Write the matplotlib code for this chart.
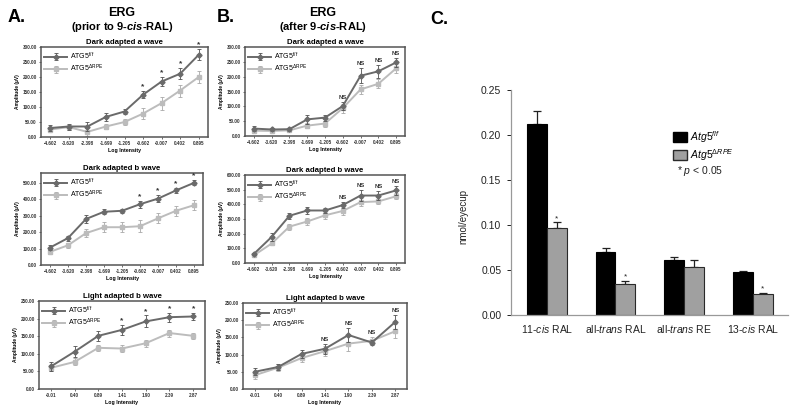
import matplotlib
matplotlib.use('Agg')
import matplotlib.pyplot as plt
import numpy as np
from matplotlib.patches import Patch

plt.rcParams['font.family'] = ['Liberation Sans', 'DejaVu Sans']
plt.rcParams['mathtext.fontset'] = 'custom'
plt.rcParams['mathtext.rm'] = 'Liberation Sans'
plt.rcParams['mathtext.it'] = 'Liberation Sans:italic'
plt.rcParams['mathtext.bf'] = 'Liberation Sans:bold'
plt.rcParams['mathtext.sf'] = 'Liberation Sans:italic:bold'

# ---------------- data ----------------
dark_labels = ['-4.602', '-3.620', '-2.398', '-1.699', '-1.205', '-0.602', '-0.007', '0.402', '0.895']
light_labels = ['-0.01', '0.40', '0.89', '1.41', '1.90', '2.39', '2.87']

# Panel A (prior to 9-cis-RAL)
a1_ff = [30, 35, 35, 67, 85, 141, 185, 211, 274]
a1_ff_err = [10, 10, 15, 12, 8, 12, 15, 18, 18]
a1_ko = [25, 33, 17, 35, 50, 78, 113, 155, 200]
a1_ko_err = [8, 8, 12, 8, 10, 18, 22, 20, 20]
a1_marks = [5, 6, 7, 8]

a2_ff = [106, 164, 280, 324, 330, 370, 404, 454, 500]
a2_ff_err = [15, 15, 25, 15, 12, 20, 20, 15, 15]
a2_ko = [80, 120, 194, 230, 230, 236, 284, 330, 364]
a2_ko_err = [15, 15, 25, 30, 30, 35, 30, 30, 30]
a2_marks = [5, 6, 7, 8]

a3_ff = [64, 106, 151, 168, 192, 204, 206]
a3_ff_err = [12, 15, 15, 15, 17, 13, 10]
a3_ko = [60, 77, 117, 115, 130, 159, 151]
a3_ko_err = [8, 10, 8, 10, 10, 10, 8]
a3_marks = [3, 4, 5, 6]

# Panel B (after 9-cis-RAL)
b1_ff = [25, 22, 23, 56, 62, 101, 203, 218, 248]
b1_ff_err = [8, 6, 5, 15, 10, 15, 25, 22, 15]
b1_ko = [18, 17, 19, 35, 42, 94, 157, 176, 228]
b1_ko_err = [5, 5, 4, 8, 10, 15, 15, 15, 15]
b1_marks = [5, 6, 7, 8]

b2_ff = [62, 178, 322, 358, 358, 395, 460, 460, 495]
b2_ff_err = [8, 25, 20, 25, 15, 20, 35, 30, 30]
b2_ko = [52, 133, 248, 283, 325, 355, 415, 420, 455]
b2_ko_err = [8, 12, 20, 25, 25, 25, 25, 15, 20]
b2_marks = [5, 6, 7, 8]

b3_ff = [50, 64, 102, 117, 157, 135, 195]
b3_ff_err = [10, 8, 12, 15, 20, 8, 20]
b3_ko = [40, 62, 90, 110, 132, 140, 168]
b3_ko_err = [12, 10, 12, 15, 22, 10, 20]
b3_marks = [3, 4, 5, 6]

# Panel C (retinoids)
c_categories = ['11-$\\mathit{cis}$ RAL', 'all-$\\mathit{trans}$ RAL',
                'all-$\\mathit{trans}$ RE', '13-$\\mathit{cis}$ RAL']
c_ff = [0.212, 0.070, 0.061, 0.048]
c_ff_err = [0.015, 0.005, 0.003, 0.001]
c_ko = [0.097, 0.035, 0.053, 0.023]
c_ko_err = [0.006, 0.003, 0.008, 0.002]
c_marks = [0, 1, 3]
c_yticks = [0.00, 0.05, 0.10, 0.15, 0.20, 0.25]

lab_ff = 'ATG5$^{\\mathrm{f/f}}$'
lab_ko = 'ATG5$^{\\Delta\\mathrm{RPE}}$'

# ---------------- figure ----------------
W, H = 800, 416
fig = plt.figure(figsize=(W / 100, H / 100), dpi=100)

def px_axes(l, t, r, b):
    return fig.add_axes([l / W, 1 - b / H, (r - l) / W, (b - t) / H])

def ftext(x, y, s, **kw):
    fig.text(x / W, 1 - y / H, s, **kw)

FF_C = '#6a6a6a'
KO_C = '#bcbcbc'

def erg(ax, labels, ff, ff_err, ko, ko_err, ymax, ystep, marks, mark, title):
    x = np.arange(len(labels))
    ax.errorbar(x, ko, yerr=ko_err, color=KO_C, ecolor='#a8a8a8', marker='s', ms=2.8,
                lw=1.4, capsize=1.4, elinewidth=0.6, capthick=0.6, label=lab_ko, zorder=2)
    ax.errorbar(x, ff, yerr=ff_err, color=FF_C, ecolor='#505050', marker='D', ms=2.6,
                lw=1.4, capsize=1.4, elinewidth=0.6, capthick=0.6, label=lab_ff, zorder=3)
    ax.set_xlim(-0.5, len(labels) - 0.5)
    ax.set_ylim(0, ymax)
    yt = np.arange(0, ymax + 0.1, ystep)
    ax.set_yticks(yt, ['%.2f' % v for v in yt])
    ax.set_xticks(x, labels)
    ax.tick_params(labelsize=3.3, length=1.5, width=0.5, pad=1.5, colors='#333333')
    for lb in ax.get_xticklabels() + ax.get_yticklabels():
        lb.set_fontweight('bold')
    for s in ax.spines.values():
        s.set_linewidth(1.1)
        s.set_color('#555555')
    ax.set_xlabel('Log Intensity', fontsize=3.8, fontweight='bold', labelpad=1.5)
    ax.set_ylabel('Amplitude (µV)', fontsize=3.5, fontweight='bold', labelpad=2)
    ax.set_title(title, fontsize=5.6, fontweight='bold', pad=2.5)
    for i in marks:
        top = max(ff[i] + ff_err[i], ko[i] + ko_err[i])
        if mark == '*':
            ax.annotate('*', (x[i], top), xytext=(0, 0.5), textcoords='offset points',
                        ha='center', va='bottom', fontsize=6, fontweight='bold', color='#333333')
        else:
            ax.annotate(mark, (x[i], top), xytext=(0, 1.5), textcoords='offset points',
                        ha='center', va='bottom', fontsize=4.3, fontweight='bold', color='#333333')
    h, l = ax.get_legend_handles_labels()
    ax.legend(h[::-1], l[::-1], loc='upper left', frameon=False, fontsize=5,
              handlelength=3.2, handletextpad=0.5, labelspacing=0.15,
              borderaxespad=0.3, borderpad=0.2)

# Panel A axes
ax = px_axes(41, 47, 208, 137)
erg(ax, dark_labels, a1_ff, a1_ff_err, a1_ko, a1_ko_err, 300, 50, a1_marks, '*', 'Dark adapted a wave')
ax = px_axes(41, 173, 203, 265)
erg(ax, dark_labels, a2_ff, a2_ff_err, a2_ko, a2_ko_err, 560, 100, a2_marks, '*', 'Dark adapted b wave')
ax = px_axes(39, 301, 205, 389)
erg(ax, light_labels, a3_ff, a3_ff_err, a3_ko, a3_ko_err, 250, 50, a3_marks, '*', 'Light adapted b wave')

# Panel B axes
ax = px_axes(245, 47, 405, 136)
erg(ax, dark_labels, b1_ff, b1_ff_err, b1_ko, b1_ko_err, 300, 50, b1_marks, 'NS', 'Dark adapted a wave')
ax = px_axes(245, 175, 405, 263)
erg(ax, dark_labels, b2_ff, b2_ff_err, b2_ko, b2_ko_err, 600, 100, b2_marks, 'NS', 'Dark adapted b wave')
ax = px_axes(243, 303, 407, 389)
erg(ax, light_labels, b3_ff, b3_ff_err, b3_ko, b3_ko_err, 250, 50, b3_marks, 'NS', 'Light adapted b wave')

# Headers
ftext(8, 17, 'A.', fontsize=13, fontweight='bold', ha='left', va='center')
ftext(217, 17, 'B.', fontsize=13, fontweight='bold', ha='left', va='center')
ftext(430, 20, 'C.', fontsize=13, fontweight='bold', ha='left', va='center')
ftext(122, 13, 'ERG', fontsize=9, fontweight='bold', ha='center', va='center')
ftext(122, 27, '(prior to 9-$\\mathsf{cis}$-RAL)', fontsize=8, fontweight='bold', ha='center', va='center')
ftext(323, 13, 'ERG', fontsize=9, fontweight='bold', ha='center', va='center')
ftext(323, 27, '(after 9-$\\mathsf{cis}$-RAL)', fontsize=8, fontweight='bold', ha='center', va='center')

# Panel C
axc = px_axes(511, 90, 788, 315)
xc = np.arange(len(c_categories))
bw = 0.29
axc.bar(xc - bw / 2, c_ff, bw, color='black', edgecolor='black', lw=0.8, zorder=2)
axc.bar(xc + bw / 2, c_ko, bw, color='#a0a0a0', edgecolor='#2a2a2a', lw=0.8, zorder=2)
axc.errorbar(xc - bw / 2, c_ff, yerr=[np.zeros(len(c_ff)), c_ff_err], fmt='none',
             ecolor='#222222', elinewidth=0.9, capsize=3.2, capthick=0.9, zorder=1)
axc.errorbar(xc + bw / 2, c_ko, yerr=[np.zeros(len(c_ko)), c_ko_err], fmt='none',
             ecolor='#222222', elinewidth=0.9, capsize=3.2, capthick=0.9, zorder=1)
for i in c_marks:
    axc.annotate('*', (xc[i] + bw / 2, c_ko[i] + c_ko_err[i]), xytext=(0, 0), textcoords='offset points',
                 ha='center', va='bottom', fontsize=6, color='#222222')
axc.set_xlim(-0.52, 3.51)
axc.set_ylim(0, 0.25)
axc.set_yticks(c_yticks, ['%.2f' % v for v in c_yticks])
axc.set_xticks(xc, c_categories)
axc.tick_params(axis='y', labelsize=7.5, length=3, width=0.7, pad=4, colors='#222222')
axc.tick_params(axis='x', labelsize=7.5, length=0, pad=6, colors='#222222')
for s in ['top', 'right']:
    axc.spines[s].set_visible(False)
for s in ['left', 'bottom']:
    axc.spines[s].set_color('#999999')
    axc.spines[s].set_linewidth(0.9)
axc.set_ylabel('nmol/eyecup', fontsize=7, color='#222222')
axc.yaxis.set_label_coords(-0.155, 0.44)

handles = [Patch(facecolor='black', edgecolor='black'),
           Patch(facecolor='#a0a0a0', edgecolor='#2a2a2a')]
axc.legend(handles, ['$\\mathit{Atg5}^{\\mathit{f/f}}$', '$\\mathit{Atg5}^{\\mathit{\\Delta RPE}}$'],
           loc='upper left', bbox_to_anchor=(673 / W, 1 - 129 / H), bbox_transform=fig.transFigure,
           frameon=False, fontsize=7.5, handlelength=1.3, handleheight=1.1, handletextpad=0.3,
           labelspacing=0.2, borderpad=0, borderaxespad=0)
ftext(677, 171, '* $\\mathit{p}$ < 0.05', fontsize=7.5, ha='left', va='center', color='#222222')

fig.savefig('out.png', dpi=100)
